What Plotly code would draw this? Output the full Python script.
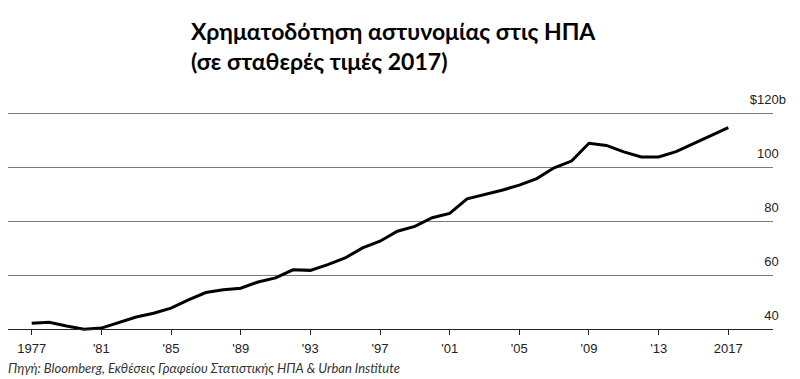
import plotly.graph_objects as go

years = list(range(1977, 2018))
funding = [42.2, 42.6, 41.2, 40.0, 40.4, 42.5, 44.5, 45.9, 47.8, 50.9,
           53.6, 54.6, 55.2, 57.5, 59.0, 62.0, 61.8, 63.9, 66.4, 70.1,
           72.6, 76.3, 78.1, 81.3, 82.9, 88.3, 89.9, 91.5, 93.4, 95.8,
           99.8, 102.3, 108.9, 108.1, 105.7, 103.8, 103.8, 105.8, 108.8, 111.6,
           114.7]

x_tick_vals = [1977, 1981, 1985, 1989, 1993, 1997, 2001, 2005, 2009, 2013, 2017]
x_tick_text = ["1977", "'81", "'85", "'89", "'93", "'97", "'01", "'05", "'09", "'13", "2017"]
y_tick_vals = [40, 60, 80, 100, 120]
FS = "\u2007"  # figure space so digits line up with the hanging "b"
y_tick_text = ["40" + FS, "60" + FS, "80" + FS, "100" + FS, "$120b"]

title_text = "Χρηματοδότηση αστυνομίας στις ΗΠΑ<br>(σε σταθερές τιμές 2017)"
source_text = "Πηγή: Bloomberg, Εκθέσεις Γραφείου Στατιστικής ΗΠΑ & Urban Institute"

Y_MIN, Y_MAX, Y_BASE = 36, 129, 40

fig = go.Figure()
fig.add_trace(go.Scatter(
    x=years, y=funding, mode="lines",
    line=dict(color="black", width=3),
    hoverinfo="x+y", showlegend=False,
))

fig.update_layout(
    width=800, height=379,
    margin=dict(l=8, r=27, t=89, b=39),
    paper_bgcolor="white", plot_bgcolor="white",
    title=dict(
        text=title_text,
        x=191 / 800, xref="container", xanchor="left",
        y=1 - 40 / 379, yref="container", yanchor="top",
        font=dict(family="Lato", size=23, color="black", weight="bold"),
    ),
    xaxis=dict(
        range=[1975.639, 2019.567],
        anchor="free", position=(Y_BASE - Y_MIN) / (Y_MAX - Y_MIN),
        tickmode="array", tickvals=x_tick_vals, ticktext=x_tick_text,
        ticks="outside", ticklen=5, tickwidth=1, tickcolor="#222",
        showgrid=False, zeroline=False,
        showline=True, linecolor="#222", linewidth=1.4,
        tickfont=dict(family="Liberation Sans", size=13, color="#222"),
        ticklabelstandoff=2,
    ),
    yaxis=dict(
        range=[Y_MIN, Y_MAX], side="right",
        tickmode="array", tickvals=y_tick_vals, ticktext=y_tick_text,
        ticklabelposition="inside top", ticklabelshift=-5, ticklabelstandoff=-16,
        showgrid=True, gridcolor="#7c7c7c", gridwidth=1.4,
        zeroline=False, showline=False, ticks="",
        tickfont=dict(family="Liberation Sans", size=13, color="#222"),
    ),
    annotations=[dict(
        text=source_text, xref="paper", yref="paper", x=-0.003, y=-0.111,
        xanchor="left", yanchor="middle", showarrow=False,
        font=dict(family="Lato", size=13, color="#333", style="italic"),
    )],
)

fig.write_html("out.html", config={"displayModeBar": False},
               post_script="document.body.style.margin='0';")
